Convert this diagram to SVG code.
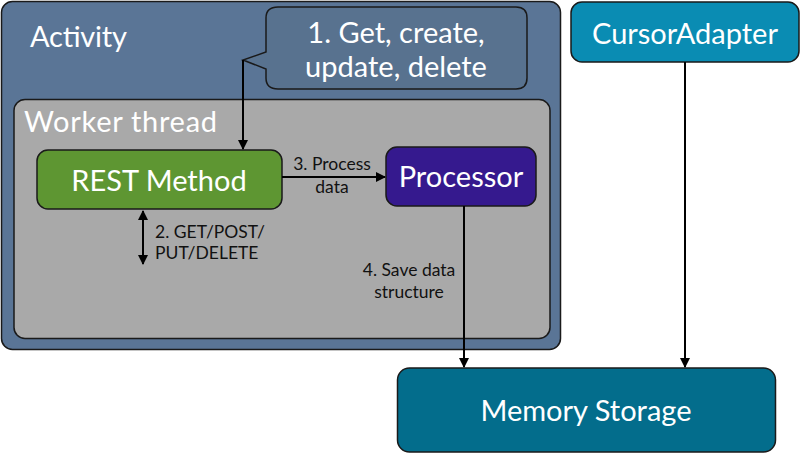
<svg xmlns="http://www.w3.org/2000/svg" width="800" height="453" viewBox="0 0 800 453">
<style>
.big{font-family:Lato,"Open Sans","Liberation Sans",sans-serif;fill:#fff;font-size:29px}
.lbl{font-family:Lato,"Open Sans","Liberation Sans",sans-serif;fill:#111;font-size:17.5px}
.box{stroke:#1a1a1a;stroke-width:1.5}
.edge{stroke:#000;stroke-width:2;fill:none}
</style>
<defs>
<marker id="ah" viewBox="0 0 10 10" refX="9" refY="5" markerWidth="5" markerHeight="5" orient="auto-start-reverse" markerUnits="strokeWidth">
<path d="M0,0 L10,5 L0,10 Z" fill="#000"/>
</marker>
</defs>
<rect width="800" height="453" fill="#fff"/>
<g id="activity">
<rect class="box" x="1.5" y="1.5" width="559" height="348" rx="11" fill="#5a7596"/>
<text class="big" x="30" y="47" textLength="97">Activity</text>
</g>
<g id="callout">
<path class="box" d="M278,7 H516 Q527,7 527,18 V78 Q527,89 516,89 H278 Q266,89 266,78 V69 L243,60 L266,52 V18 Q266,7 278,7 Z" fill="#58728f"/>
<text class="big" x="396" y="43" text-anchor="middle">1. Get, create,</text>
<text class="big" x="396" y="77" text-anchor="middle">update, delete</text>
</g>
<g id="worker">
<rect class="box" x="14" y="99.5" width="536" height="239" rx="11" fill="#a9a9a9"/>
<text class="big" x="24" y="132" textLength="193">Worker thread</text>
</g>
<g id="rest">
<rect class="box" x="37" y="150" width="245" height="59" rx="11" fill="#5e9632"/>
<text class="big" x="159" y="191" text-anchor="middle">REST Method</text>
</g>
<g id="processor">
<rect class="box" x="386" y="147" width="150" height="59" rx="11" fill="#35198e"/>
<text class="big" x="461" y="187" text-anchor="middle">Processor</text>
</g>
<g id="cursoradapter">
<rect class="box" x="571" y="2" width="228" height="60" rx="11" fill="#0a8cb3"/>
<text class="big" x="685" y="44" text-anchor="middle">CursorAdapter</text>
</g>
<g id="memory">
<rect class="box" x="397.5" y="368" width="378" height="84" rx="12" fill="#036d8c"/>
<text class="big" x="586" y="421" text-anchor="middle">Memory Storage</text>
</g>
<g id="connectors">
<path class="edge" d="M243,60 V149" marker-end="url(#ah)"/>
<path class="edge" d="M282,177 H385" marker-end="url(#ah)"/>
<path class="edge" d="M143,211 V264" marker-start="url(#ah)" marker-end="url(#ah)"/>
<path class="edge" d="M464,206 V367" marker-end="url(#ah)"/>
<path class="edge" d="M685,62 V367" marker-end="url(#ah)"/>
<text class="lbl" x="332" y="170" text-anchor="middle">3. Process</text>
<text class="lbl" x="332" y="193" text-anchor="middle">data</text>
<text class="lbl" x="155" y="238">2. GET/POST/</text>
<text class="lbl" x="155" y="259">PUT/DELETE</text>
<text class="lbl" x="409" y="276" text-anchor="middle">4. Save data</text>
<text class="lbl" x="409" y="298" text-anchor="middle">structure</text>
</g>
</svg>
